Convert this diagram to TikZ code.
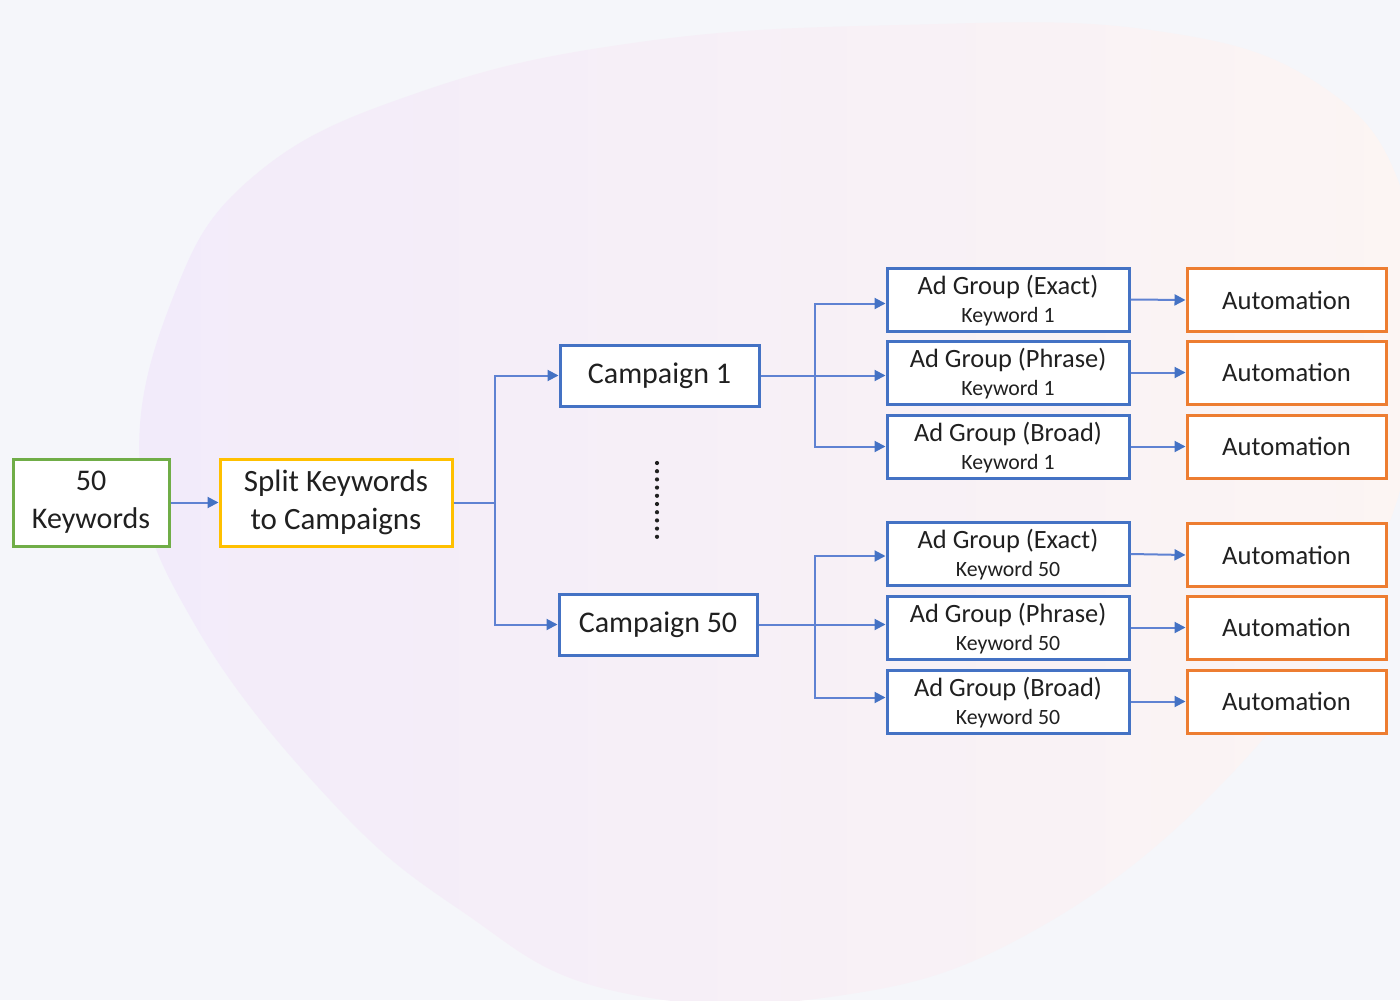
\documentclass[tikz,border=0pt]{standalone}
\usepackage{fontspec}
\setmainfont{Carlito}
\usetikzlibrary{arrows.meta,calc}
\definecolor{bgc}{HTML}{F5F6FA}
\definecolor{lav}{HTML}{F2EBFA}
\definecolor{peach}{HTML}{FCF5F3}
\definecolor{gbox}{HTML}{70AD47}
\definecolor{ybox}{HTML}{FFC000}
\definecolor{bbox}{HTML}{4472C4}
\definecolor{obox}{HTML}{ED7D31}
\definecolor{conn}{HTML}{5F82D2}
\definecolor{txt}{HTML}{202020}
\tikzset{
  box/.style={draw, line width=1.5pt, fill=white, inner sep=0pt, align=center, text=txt},
  greenbox/.style={box, draw=gbox, minimum width=78pt, minimum height=43.5pt, font=\fontsize{15pt}{19pt}\selectfont},
  yellowbox/.style={box, draw=ybox, minimum width=116pt, minimum height=43.5pt, font=\fontsize{15.5pt}{19pt}\selectfont},
  campbox/.style={box, draw=bbox, minimum width=99.5pt, minimum height=30.5pt, font=\fontsize{15pt}{18pt}\selectfont},
  agbox/.style={box, draw=bbox, minimum width=121pt, minimum height=31.5pt, font=\fontsize{13.2pt}{14.5pt}\selectfont},
  autobox/.style={box, draw=obox, minimum width=99.5pt, minimum height=31.5pt, font=\fontsize{13.3pt}{15pt}\selectfont},
  link/.style={draw=conn, line width=1pt, -{Triangle[length=5.5pt,width=5.5pt,color=bbox]}},
  plain/.style={draw=conn, line width=1pt}
}
\newcommand{\kwline}[1]{\\[-0.5pt]{\fontsize{10.9pt}{12pt}\selectfont #1}}
\begin{document}
\begin{tikzpicture}[x=0.5pt,y=-0.5pt]
\useasboundingbox (0,0) rectangle (1400,1000);
\clip (0,0) rectangle (1400,1000);
\fill[bgc] (0,0) rectangle (1400,1000);
\shade[left color=lav, right color=peach] plot[smooth cycle, tension=0.7] coordinates {
 (140,470) (172,300) (255,175) (420,92) (640,42) (900,25) (1150,30) (1320,85) (1405,200)
 (1420,380) (1365,580) (1235,770) (1035,930) (830,997) (610,990) (460,910) (330,800) (195,625)};
% nodes
\node[greenbox] (kw) at (91,502.5) {50\\Keywords};
\node[yellowbox] (split) at (336,502.5) {Split Keywords\\to Campaigns};
\node[campbox] (c1) at (659.5,375.5) {Campaign 1};
\node[campbox, minimum width=99pt] (c50) at (658,624.5) {Campaign 50};
\node[agbox, text depth=1pt] (a1) at (1008,299.5) {Ad Group (Exact)\kwline{Keyword 1}};
\node[agbox, text depth=1pt] (a2) at (1008,372.5) {Ad Group (Phrase)\kwline{Keyword 1}};
\node[agbox, text depth=1pt] (a3) at (1008,446.5) {Ad Group (Broad)\kwline{Keyword 1}};
\node[agbox, text depth=1pt] (b1) at (1008,554) {Ad Group (Exact)\kwline{Keyword 50}};
\node[agbox, text depth=1pt] (b2) at (1008,627.5) {Ad Group (Phrase)\kwline{Keyword 50}};
\node[agbox, text depth=1pt] (b3) at (1008,701.5) {Ad Group (Broad)\kwline{Keyword 50}};
\node[autobox] (u1) at (1286.5,300) {Automation};
\node[autobox] (u2) at (1286.5,372.5) {Automation};
\node[autobox] (u3) at (1286.5,446.5) {Automation};
\node[autobox] (v1) at (1286.5,555) {Automation};
\node[autobox] (v2) at (1286.5,627.5) {Automation};
\node[autobox] (v3) at (1286.5,701.5) {Automation};
\coordinate (dtop) at (657,463);
\coordinate (dbot) at (657,537);
\coordinate (sj) at (495,502.5);
\coordinate (cj1) at (815,375.5);
\coordinate (cj2) at (815,624.5);
% connectors
\draw[link] (kw.east) -- (split.west);
\draw[plain] (split.east) -- (sj);
\draw[link] (sj) |- (c1.west);
\draw[link] (sj) |- (c50.west);
\draw[plain] (c1.east) -- (cj1);
\draw[link] (cj1) -- (cj1 -| a2.west);
\draw[link] (cj1) |- ($(a1.west)+(0,4)$);
\draw[link] (cj1) |- (a3.west);
\draw[plain] (c50.east) -- (cj2);
\draw[link] (cj2) |- ($(b1.west)+(0,2)$);
\draw[link] (cj2) -- (cj2 -| b2.west);
\draw[link] (cj2) |- ($(b3.west)+(0,-4)$);
\draw[link] (a1.east) -- (u1.west);
\draw[link] (a2.east) -- (u2.west);
\draw[link] (a3.east) -- (u3.west);
\draw[link] (b1.east) -- (v1.west);
\draw[link] (b2.east) -- (v2.west);
\draw[link] (b3.east) -- (v3.west);
\draw[line width=2.1pt, line cap=round, dash pattern=on 0pt off 4.1pt, draw=txt] (dtop) -- (dbot);
\end{tikzpicture}
\end{document}
